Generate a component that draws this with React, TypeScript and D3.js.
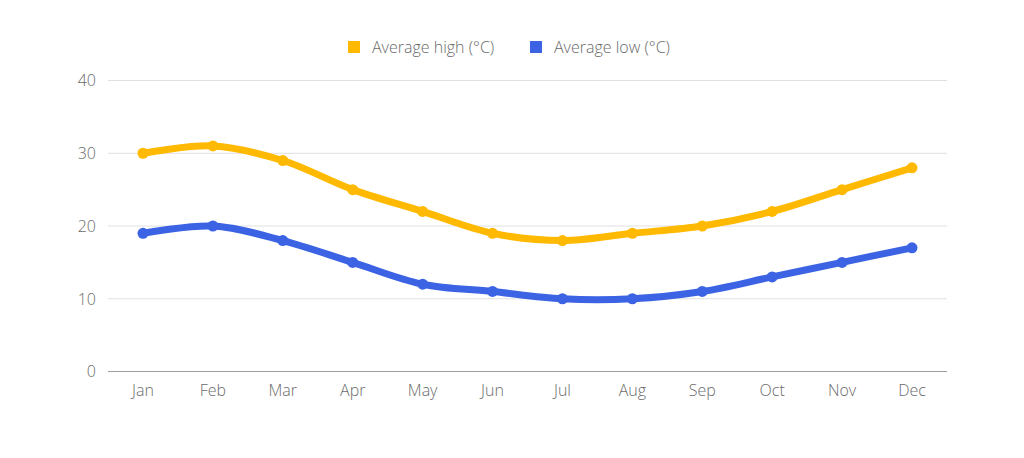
import React from "react";
import * as d3 from "d3";

const months = ["Jan","Feb","Mar","Apr","May","Jun","Jul","Aug","Sep","Oct","Nov","Dec"];
const highs = [30,31,29,25,22,19,18,19,20,22,25,28];
const lows = [19,20,18,15,12,11,10,10,11,13,15,17];
const yTicks = [0,10,20,30,40];
const seriesNames = ["Average high (°C)", "Average low (°C)"];
const colors = ["#FFB900", "#3B63E4"];

export default function App() {
  const W = 1024, H = 458;
  const x = d3.scalePoint<string>().domain(months).range([143, 912]);
  const y = d3.scaleLinear().domain([0, 40]).range([371.5, 80.5]);
  const line = d3.line<number>()
    .x((_, i) => x(months[i])!)
    .y(d => y(d))
    .curve(d3.curveCatmullRom.alpha(0.5));
  const font = "'Open Sans', sans-serif";
  const series = [highs, lows];
  const legendX = [348, 530];
  return (
    <svg width={W} height={H} style={{ position: "absolute", left: 0, top: 0, background: "#fff" }} fontFamily={font}>
      {yTicks.map(t => (
        <g key={t}>
          <line x1={108} x2={947} y1={y(t)} y2={y(t)} stroke={t === 0 ? "#9e9e9e" : "#e0e0e0"} strokeWidth={1} />
          <text x={96} y={y(t)} dy="0.36em" textAnchor="end" fontSize={16} fill="#6b6b6b" fontWeight={300}>{t}</text>
        </g>
      ))}
      {months.map(m => (
        <text key={m} x={x(m)} y={396} textAnchor="middle" fontSize={16} fill="#6b6b6b" fontWeight={300}>{m}</text>
      ))}
      {series.map((s, si) => (
        <g key={si}>
          <path d={line(s)!} fill="none" stroke={colors[si]} strokeWidth={7} strokeLinecap="round" />
          {s.map((v, i) => (
            <circle key={i} cx={x(months[i])} cy={y(v)} r={5.5} fill={colors[si]} />
          ))}
        </g>
      ))}
      {seriesNames.map((n, i) => (
        <g key={n}>
          <rect x={legendX[i]} y={41} width={12} height={12} fill={colors[i]} />
          <text x={legendX[i] + 24} y={47} dy="0.36em" fontSize={16} fill="#6b6b6b" fontWeight={300}>{n}</text>
        </g>
      ))}
    </svg>
  );
}
